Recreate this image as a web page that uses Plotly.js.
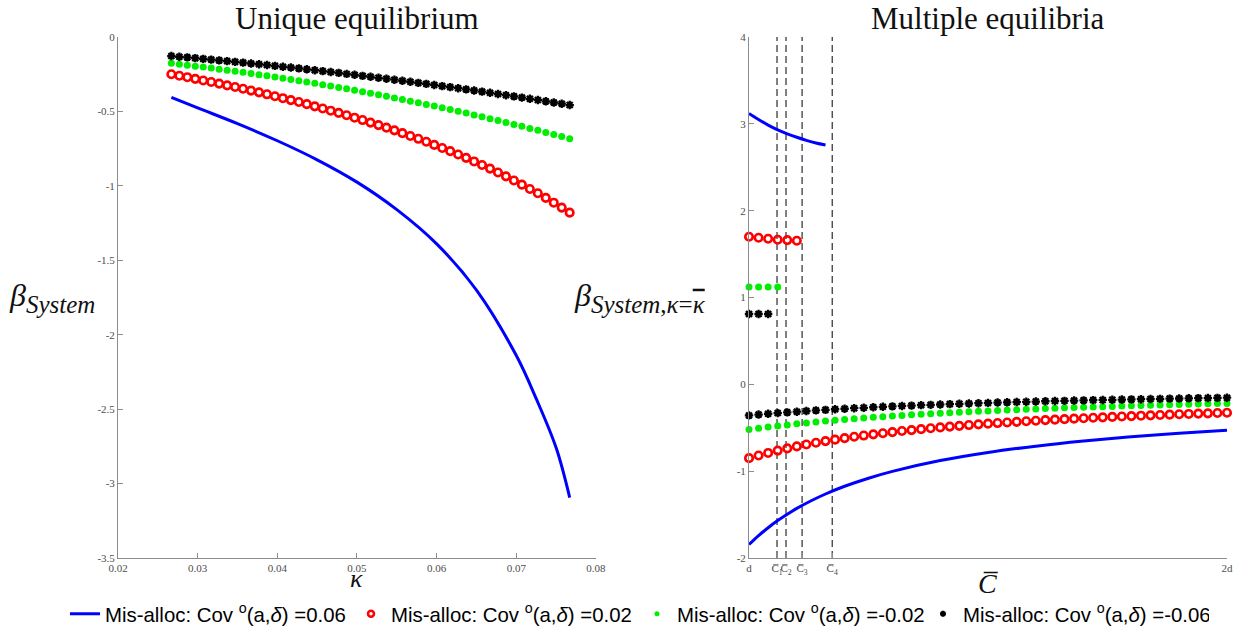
<!DOCTYPE html>
<html>
<head>
<meta charset="utf-8">
<script src="https://cdn.plot.ly/plotly-3.0.1.min.js"></script>
<style>html,body{margin:0;padding:0;background:#fff;}#chart{width:1247px;height:634px;}</style>
</head>
<body>
<div id="chart"></div>
<script>
// ---------- Left panel: unique equilibrium ----------
var kappa = [0.0267,0.0277,0.0287,0.0297,0.0307,0.0317,0.0327,0.0337,0.0347,0.0357,0.0367,0.0377,0.0387,0.0397,0.0407,0.0417,0.0427,0.0437,0.0447,0.0457,0.0467,0.0477,0.0487,0.0497,0.0507,0.0517,0.0527,0.0537,0.0547,0.0557,0.0567,0.0577,0.0587,0.0597,0.0607,0.0617,0.0627,0.0637,0.0647,0.0657,0.0667,0.0677,0.0687,0.0697,0.0707,0.0717,0.0727,0.0737,0.0747,0.0757,0.0767];
var leftRed = [-0.250,-0.260,-0.270,-0.281,-0.292,-0.302,-0.313,-0.325,-0.336,-0.348,-0.360,-0.372,-0.385,-0.398,-0.411,-0.424,-0.437,-0.451,-0.466,-0.480,-0.495,-0.510,-0.526,-0.542,-0.558,-0.575,-0.592,-0.609,-0.627,-0.646,-0.665,-0.684,-0.704,-0.725,-0.746,-0.767,-0.789,-0.812,-0.836,-0.860,-0.884,-0.910,-0.936,-0.964,-0.992,-1.021,-1.050,-1.081,-1.113,-1.146,-1.180];
var leftGreen = [-0.177,-0.183,-0.189,-0.196,-0.202,-0.209,-0.216,-0.223,-0.230,-0.237,-0.245,-0.253,-0.260,-0.268,-0.277,-0.285,-0.294,-0.302,-0.311,-0.320,-0.329,-0.339,-0.348,-0.358,-0.368,-0.378,-0.388,-0.398,-0.409,-0.420,-0.431,-0.442,-0.453,-0.464,-0.476,-0.487,-0.499,-0.511,-0.524,-0.536,-0.549,-0.561,-0.574,-0.587,-0.600,-0.614,-0.627,-0.641,-0.655,-0.669,-0.683];
var leftBlack = [-0.128,-0.133,-0.137,-0.142,-0.147,-0.152,-0.157,-0.162,-0.167,-0.172,-0.178,-0.183,-0.188,-0.194,-0.200,-0.205,-0.211,-0.217,-0.223,-0.229,-0.235,-0.241,-0.248,-0.254,-0.261,-0.267,-0.274,-0.280,-0.287,-0.294,-0.301,-0.308,-0.315,-0.322,-0.330,-0.337,-0.344,-0.352,-0.359,-0.367,-0.375,-0.383,-0.391,-0.399,-0.407,-0.415,-0.423,-0.432,-0.440,-0.448,-0.457];
var kappaLine = [0.0267,0.0300,0.0350,0.0400,0.0450,0.0500,0.0550,0.0600,0.0650,0.0700,0.0725,0.0750,0.0767];
var leftBlue = [-0.405,-0.476,-0.582,-0.697,-0.825,-0.975,-1.160,-1.390,-1.700,-2.140,-2.430,-2.760,-3.094];
var leftXTicks = [0.02,0.03,0.04,0.05,0.06,0.07,0.08];
var leftXTickText = ['0.02','0.03','0.04','0.05','0.06','0.07','0.08'];
var leftYTicks = [0,-0.5,-1,-1.5,-2,-2.5,-3,-3.5];
var leftYTickText = ['0','-0.5','-1','-1.5','-2','-2.5','-3','-3.5'];

// ---------- Right panel: multiple equilibria ----------
var cGrid = [1.00,1.02,1.04,1.06,1.08,1.10,1.12,1.14,1.16,1.18,1.20,1.22,1.24,1.26,1.28,1.30,1.32,1.34,1.36,1.38,1.40,1.42,1.44,1.46,1.48,1.50,1.52,1.54,1.56,1.58,1.60,1.62,1.64,1.66,1.68,1.70,1.72,1.74,1.76,1.78,1.80,1.82,1.84,1.86,1.88,1.90,1.92,1.94,1.96,1.98,2.00];
var rightRedLow = [-0.850,-0.819,-0.790,-0.763,-0.738,-0.715,-0.693,-0.673,-0.654,-0.637,-0.620,-0.604,-0.590,-0.576,-0.563,-0.550,-0.538,-0.527,-0.516,-0.506,-0.496,-0.487,-0.478,-0.469,-0.461,-0.453,-0.446,-0.439,-0.432,-0.425,-0.419,-0.412,-0.407,-0.401,-0.395,-0.390,-0.385,-0.380,-0.375,-0.370,-0.366,-0.361,-0.357,-0.353,-0.349,-0.345,-0.341,-0.337,-0.334,-0.330,-0.327];
var rightGreenLow = [-0.520,-0.505,-0.492,-0.479,-0.467,-0.455,-0.444,-0.433,-0.423,-0.414,-0.405,-0.396,-0.388,-0.380,-0.372,-0.365,-0.358,-0.351,-0.345,-0.339,-0.333,-0.327,-0.321,-0.316,-0.311,-0.306,-0.301,-0.296,-0.292,-0.288,-0.283,-0.279,-0.275,-0.271,-0.268,-0.264,-0.260,-0.257,-0.254,-0.250,-0.247,-0.244,-0.241,-0.238,-0.236,-0.233,-0.230,-0.227,-0.225,-0.222,-0.220];
var rightBlackLow = [-0.358,-0.348,-0.339,-0.331,-0.323,-0.315,-0.307,-0.300,-0.294,-0.287,-0.281,-0.275,-0.270,-0.264,-0.259,-0.254,-0.249,-0.245,-0.240,-0.236,-0.232,-0.228,-0.224,-0.221,-0.217,-0.214,-0.210,-0.207,-0.204,-0.201,-0.198,-0.195,-0.192,-0.190,-0.187,-0.185,-0.182,-0.180,-0.178,-0.175,-0.173,-0.171,-0.169,-0.167,-0.165,-0.163,-0.161,-0.159,-0.158,-0.156,-0.154];
var cLineLow = [1.00,1.02,1.04,1.06,1.08,1.10,1.13,1.16,1.20,1.25,1.30,1.40,1.50,1.60,1.70,1.80,1.90,2.00];
var rightBlueLow = [-1.845,-1.742,-1.651,-1.569,-1.496,-1.429,-1.341,-1.263,-1.174,-1.081,-1.002,-0.878,-0.785,-0.712,-0.653,-0.604,-0.564,-0.530];
var cLineHigh = [1.00,1.02,1.04,1.06,1.08,1.10,1.12,1.14,1.16];
var rightBlueHigh = [3.120,3.050,2.985,2.930,2.885,2.845,2.810,2.780,2.757];
var redHighX = [1.00,1.02,1.04,1.06,1.08,1.10];
var rightRedHigh = [1.699,1.688,1.676,1.665,1.661,1.653];
var greenHighX = [1.00,1.02,1.04,1.06];
var rightGreenHigh = [1.120,1.120,1.120,1.120];
var blackHighX = [1.00,1.02,1.04];
var rightBlackHigh = [0.810,0.810,0.810];
var cBar = [1.0586,1.0774,1.111,1.174];
var rightYRange = [-2,4];
var rightXTickText = ['d','C\u0305<sub>1</sub>','C\u0305<sub>2</sub>','C\u0305<sub>3</sub>','C\u0305<sub>4</sub>','2d'];
var rightYTicks = [-2,-1,0,1,2,3,4];
var rightYTickText = ['-2','-1','0','1','2','3','4'];

var legendNames = [
  'Mis-alloc: Cov <sup>o</sup>(a,<i>\u03b4</i>) =0.06',
  'Mis-alloc: Cov <sup>o</sup>(a,<i>\u03b4</i>) =0.02',
  'Mis-alloc: Cov <sup>o</sup>(a,<i>\u03b4</i>) =-0.02',
  'Mis-alloc: Cov <sup>o</sup>(a,<i>\u03b4</i>) =-0.06'
];

var BLUE = '#0000ff', RED = '#ff0000', GREEN = '#00ee00', BLACK = '#000000';
var redMarker = {symbol:'circle-open', size:7.5, color:RED, line:{width:2.6, color:RED}};
var greenMarker = {symbol:'circle', size:7, color:GREEN};
var blackMarker = {symbol:'asterisk-open', size:7, color:BLACK, line:{width:2.3, color:BLACK}};

// dashed verticals from cBar
var dashX = [], dashY = [];
cBar.forEach(function(c){ dashX.push(c, c, null); dashY.push(rightYRange[0], rightYRange[1], null); });

var traces = [
  {x:kappaLine, y:leftBlue, mode:'lines', line:{color:BLUE, width:3, shape:'spline', smoothing:1.0}, xaxis:'x', yaxis:'y', showlegend:false},
  {x:kappa, y:leftRed, mode:'markers', marker:redMarker, xaxis:'x', yaxis:'y', showlegend:false, cliponaxis:false},
  {x:kappa, y:leftGreen, mode:'markers', marker:greenMarker, xaxis:'x', yaxis:'y', showlegend:false, cliponaxis:false},
  {x:kappa, y:leftBlack, mode:'markers', marker:blackMarker, xaxis:'x', yaxis:'y', showlegend:false, cliponaxis:false},

  {x:dashX, y:dashY, mode:'lines', line:{color:'#000', width:1, dash:'7px,4px'}, xaxis:'x2', yaxis:'y2', showlegend:false},
  {x:cLineLow, y:rightBlueLow, mode:'lines', line:{color:BLUE, width:3, shape:'spline', smoothing:1.0}, xaxis:'x2', yaxis:'y2', showlegend:false},
  {x:cLineHigh, y:rightBlueHigh, mode:'lines', line:{color:BLUE, width:3, shape:'spline', smoothing:1.0}, xaxis:'x2', yaxis:'y2', showlegend:false},
  {x:cGrid, y:rightRedLow, mode:'markers', marker:redMarker, xaxis:'x2', yaxis:'y2', showlegend:false, cliponaxis:false},
  {x:redHighX, y:rightRedHigh, mode:'markers', marker:redMarker, xaxis:'x2', yaxis:'y2', showlegend:false, cliponaxis:false},
  {x:cGrid, y:rightGreenLow, mode:'markers', marker:greenMarker, xaxis:'x2', yaxis:'y2', showlegend:false, cliponaxis:false},
  {x:greenHighX, y:rightGreenHigh, mode:'markers', marker:greenMarker, xaxis:'x2', yaxis:'y2', showlegend:false, cliponaxis:false},
  {x:cGrid, y:rightBlackLow, mode:'markers', marker:blackMarker, xaxis:'x2', yaxis:'y2', showlegend:false, cliponaxis:false},
  {x:blackHighX, y:rightBlackHigh, mode:'markers', marker:blackMarker, xaxis:'x2', yaxis:'y2', showlegend:false, cliponaxis:false},

  // legend entries
  {x:[null], y:[null], mode:'lines', line:{color:BLUE, width:3}, name:legendNames[0], xaxis:'x', yaxis:'y'},
  {x:[null], y:[null], mode:'markers', marker:{symbol:'circle-open', size:6, color:RED, line:{width:2.5, color:RED}}, name:legendNames[1], xaxis:'x', yaxis:'y'},
  {x:[null], y:[null], mode:'markers', marker:{symbol:'circle', size:5, color:GREEN}, name:legendNames[2], xaxis:'x', yaxis:'y'},
  {x:[null], y:[null], mode:'markers', marker:{symbol:'asterisk-open', size:5, color:BLACK, line:{width:2, color:BLACK}}, name:legendNames[3], xaxis:'x', yaxis:'y'}
];

var SERIF = 'Liberation Serif, DejaVu Serif, serif';
var tickFont = {family:SERIF, size:11, color:'#4d4d4d'};
function axisBase(){
  return {showline:true, linecolor:'#8c8c8c', linewidth:1, ticks:'inside', ticklen:5, tickwidth:1, tickcolor:'#8c8c8c',
          showgrid:false, zeroline:false, mirror:false, tickfont:tickFont, tickmode:'array', fixedrange:true, tickangle:0, automargin:false};
}
var xa = axisBase(); xa.domain=[0,0.431]; xa.range=[0.02,0.08]; xa.tickvals=leftXTicks; xa.ticktext=leftXTickText; xa.anchor='y';
var ya = axisBase(); ya.domain=[0,1]; ya.range=[-3.5,0]; ya.tickvals=leftYTicks; ya.ticktext=leftYTickText; ya.anchor='x';
var xa2 = axisBase(); xa2.domain=[0.569,1]; xa2.range=[1,2]; xa2.tickvals=[1].concat(cBar).concat([2]); xa2.ticktext=rightXTickText; xa2.anchor='y2';
var ya2 = axisBase(); ya2.domain=[0,1]; ya2.range=rightYRange; ya2.tickvals=rightYTicks; ya2.ticktext=rightYTickText; ya2.anchor='x2';

var layout = {
  width:1247, height:634,
  margin:{l:118, r:20, t:37, b:76, pad:0, autoexpand:false},
  paper_bgcolor:'#fff', plot_bgcolor:'#fff',
  xaxis:xa, yaxis:ya, xaxis2:xa2, yaxis2:ya2,
  showlegend:true,
  legend:{orientation:'h', x:-0.0478, xanchor:'left', y:-0.1075, yanchor:'middle',
          font:{family:'Liberation Sans, Arial, sans-serif', size:20.4, color:'#000'},
          bgcolor:'rgba(0,0,0,0)', itemwidth:30, tracegroupgap:0, entrywidth:241, entrywidthmode:'pixels'},
  annotations:[
    {text:'Unique equilibrium', xref:'paper', yref:'paper', x:0.2155, y:1.036, xanchor:'center', yanchor:'middle', showarrow:false,
     font:{family:SERIF, size:31, color:'#111'}},
    {text:'Multiple equilibria', xref:'paper', yref:'paper', x:0.7845, y:1.036, xanchor:'center', yanchor:'middle', showarrow:false,
     font:{family:SERIF, size:31, color:'#111'}},
    {text:'<i>\u03ba</i>', xref:'paper', yref:'paper', x:0.2155, y:-0.040, xanchor:'center', yanchor:'middle', showarrow:false,
     font:{family:SERIF, size:26, color:'#111'}},
    {text:'<i>C\u0305</i>', xref:'paper', yref:'paper', x:0.7845, y:-0.049, xanchor:'center', yanchor:'middle', showarrow:false,
     font:{family:SERIF, size:28, color:'#111'}},
    {text:'<i>\u03b2</i><sub><span style="font-size:25px"><i>System</i></span></sub>', xref:'paper', yref:'paper', x:-0.1, y:0.5, xanchor:'left', yanchor:'middle', showarrow:false,
     font:{family:SERIF, size:32, color:'#111'}},
    {text:'<i>\u03b2</i><sub><span style="font-size:25px"><i>System</i>,<i>\u03ba</i>=<span style="text-decoration:overline"><i>\u03ba</i></span></span></sub>', xref:'paper', yref:'paper', x:0.409, y:0.5, xanchor:'left', yanchor:'middle', showarrow:false,
     font:{family:SERIF, size:32, color:'#111'}}
  ]
};

Plotly.newPlot('chart', traces, layout, {displayModeBar:false, staticPlot:true});
</script>
</body>
</html>
